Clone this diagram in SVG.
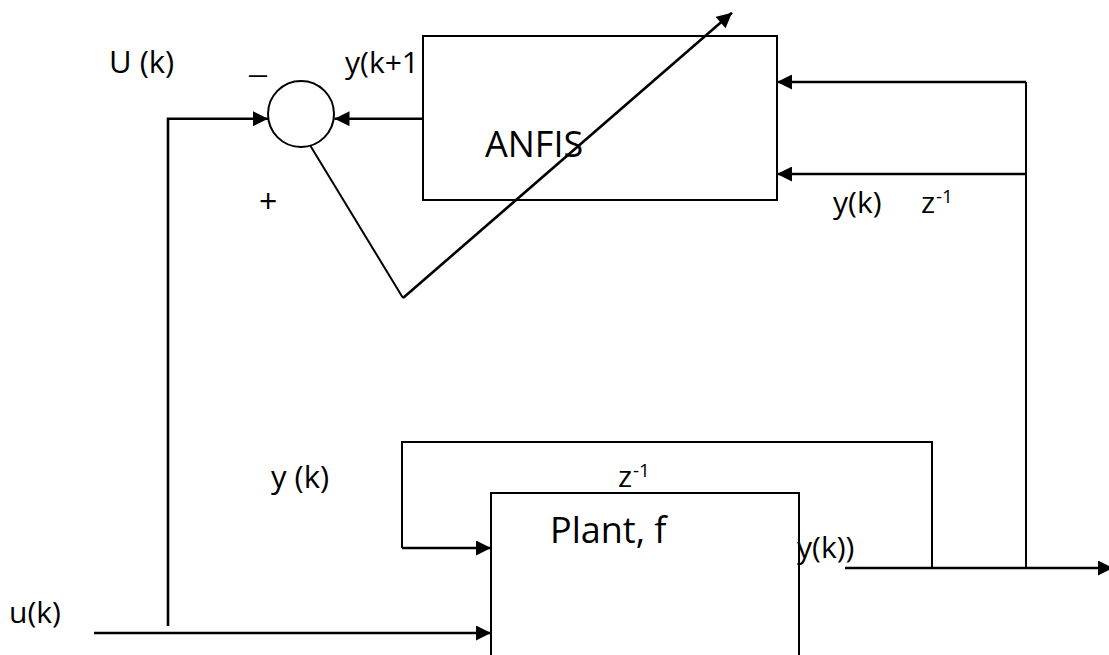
<svg xmlns="http://www.w3.org/2000/svg" width="1109" height="655" viewBox="0 0 1109 655">
<style>
.t{font-family:"Open Sans","Noto Sans",sans-serif;fill:#000}
.ln{fill:none;stroke:#000;stroke-width:2}
.ar{fill:none;stroke:#000;stroke-width:2.6}
.box{fill:#fff;stroke:#000;stroke-width:2}
</style>
<defs>
<marker id="ah" viewBox="0 0 10 10" refX="10" refY="5" markerWidth="16" markerHeight="15" markerUnits="userSpaceOnUse" orient="auto">
<path d="M0,0 L10,5 L0,10 z" fill="#000"/>
</marker>
</defs>
<g id="anfis">
<rect class="box" x="423" y="36" width="354" height="164"/>
<text class="t" x="485" y="157" font-size="36">ANFIS</text>
</g>
<g id="sum">
<circle class="box" cx="301" cy="114" r="33"/>
</g>
<g id="plant">
<rect class="box" x="491" y="493" width="308" height="175"/>
<text class="t" x="550" y="543" font-size="36">Plant, f</text>
</g>
<g id="connectors">
<path class="ar" d="M168,626 V118.7 H268" marker-end="url(#ah)"/>
<path class="ar" d="M423,118.7 H334.5" marker-end="url(#ah)"/>
<path class="ar" d="M1026,82 H777" marker-end="url(#ah)"/>
<path class="ar" d="M1026,174 H777" marker-end="url(#ah)"/>
<path class="ln" d="M1026,82 V568"/>
<path class="ar" d="M845,568 H1113" marker-end="url(#ah)"/>
<path class="ln" d="M932,568 V442 H402 V548"/>
<path class="ar" d="M402,548 H491" marker-end="url(#ah)"/>
<path class="ar" d="M94,633 H491" marker-end="url(#ah)"/>
<path class="ln" d="M310.5,146 L403,298"/>
<path class="ar" d="M403,298 L732,12.7" marker-end="url(#ah)"/>
</g>
<g id="labels">
<text class="t" x="109" y="73" font-size="31">U (k)</text>
<text class="t" x="249" y="73" font-size="30" textLength="18" lengthAdjust="spacingAndGlyphs">_</text>
<text class="t" x="345" y="73" font-size="30">y(k+1</text>
<text class="t" x="259" y="213" font-size="32">+</text>
<text class="t" x="833" y="213" font-size="30">y(k)</text>
<text class="t" x="921" y="213" font-size="30">z</text>
<text class="t" x="936" y="203" font-size="19">-1</text>
<text class="t" x="271" y="488" font-size="31">y (k)</text>
<text class="t" x="618" y="487" font-size="30">z</text>
<text class="t" x="633" y="477" font-size="19">-1</text>
<text class="t" x="797" y="558" font-size="30">y(k))</text>
<text class="t" x="9" y="623" font-size="30">u(k)</text>
</g>
</svg>
